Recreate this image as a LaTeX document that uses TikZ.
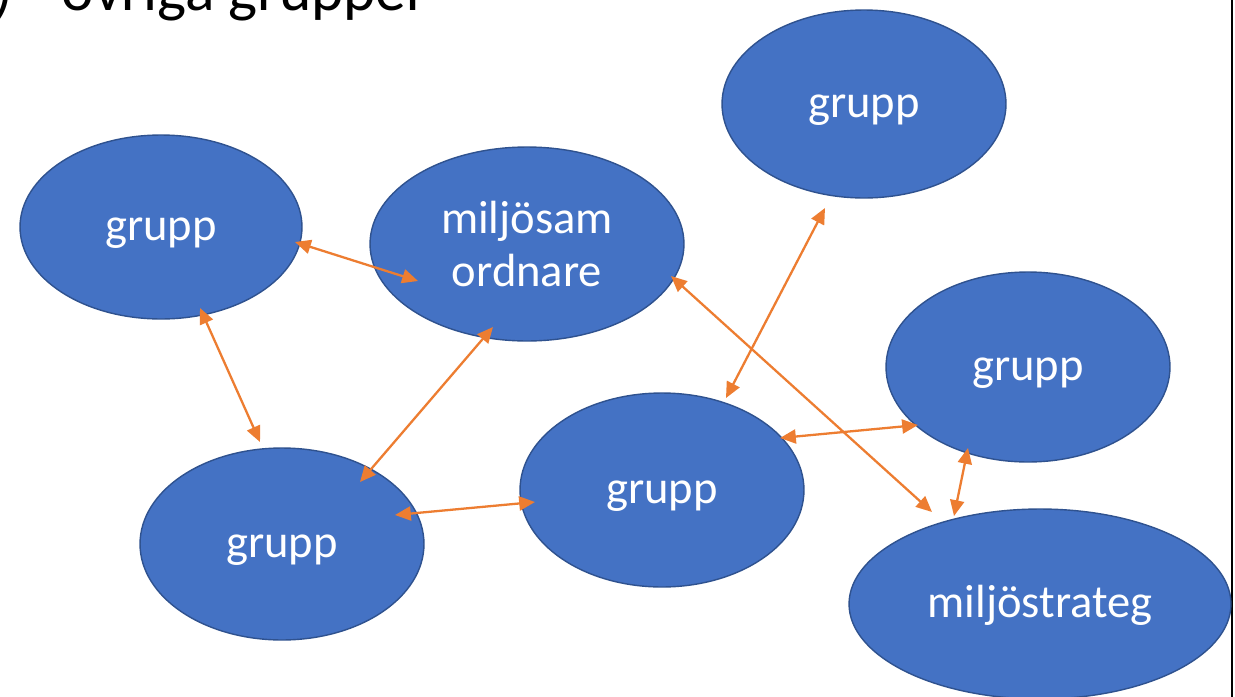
\documentclass[tikz,border=0pt]{standalone}
\usepackage{fontspec}
\setmainfont{Carlito}
\usepackage{tikz}
\usetikzlibrary{arrows,arrows.meta,shapes.geometric,calc}
\definecolor{grblue}{HTML}{4472C4}
\definecolor{grline}{HTML}{2F528F}
\definecolor{grorange}{HTML}{ED7D31}
\tikzset{
  grp/.style={ellipse,fill=grblue,draw=grline,line width=0.8pt,text=white,
    inner sep=0pt,align=center,font=\fontsize{26.5}{31}\selectfont},
  oneline/.style={text height=0.7cm,text depth=0.18cm},
  link/.style={<->,draw=grorange,line width=1.3pt}
}

\begin{document}
\begin{tikzpicture}[line cap=round,line join=round,>={Triangle[length=9pt,width=8pt]},x=0.02cm,y=-0.02cm]
\clip (0,0) rectangle (1235,697);
\fill[white] (0,0) rectangle (1235,697);
% title, cut off at the top
\node[anchor=base west,inner sep=0pt] (title) at (-6,10) {\fontsize{35}{42}\selectfont )\hspace{0.98cm}övriga grupper};
\draw[line width=1.6pt] (1232,0) -- (1232,697);
% groups
\node[grp,oneline,minimum width=5.64cm,minimum height=3.68cm] (g1) at (161,227) {grupp};
\node[grp,minimum width=6.28cm,minimum height=3.88cm] (samord) at (527,244) {miljösam\\[-1pt]ordnare};
\node[grp,oneline,minimum width=5.68cm,minimum height=3.76cm] (g2) at (864,104) {grupp};
\node[grp,oneline,minimum width=5.68cm,minimum height=3.80cm] (g3) at (1028,367) {grupp};
\node[grp,oneline,minimum width=5.68cm,minimum height=3.88cm] (g4) at (662,490) {grupp};
\node[grp,oneline,minimum width=5.68cm,minimum height=3.84cm] (g5) at (282,544) {grupp};
\node[grp,oneline,minimum width=7.64cm,minimum height=3.80cm] (strateg) at (1040,604) {miljöstrateg};
% connections
\draw[link] ($(g1)+(134,15)$) -- ($(samord)+(-109,37)$);
\draw[link] ($(g1)+(39,81)$) -- ($(g5)+(-22,-102)$);
\draw[link] ($(g5)+(78,-62)$) -- ($(samord)+(-34,83)$);
\draw[link] ($(g5)+(113,-29)$) -- ($(g4)+(-127,12)$);
\draw[link] ($(g2)+(-39,104)$) -- ($(g4)+(64,-92)$);
\draw[link] ($(samord)+(144,32)$) -- ($(strateg)+(-108,-92)$);
\draw[link] ($(g4)+(118,-52)$) -- ($(g3)+(-110,58)$);
\draw[link] ($(g3)+(-60,81)$) -- ($(strateg)+(-86,-88)$);
\end{tikzpicture}
\end{document}
